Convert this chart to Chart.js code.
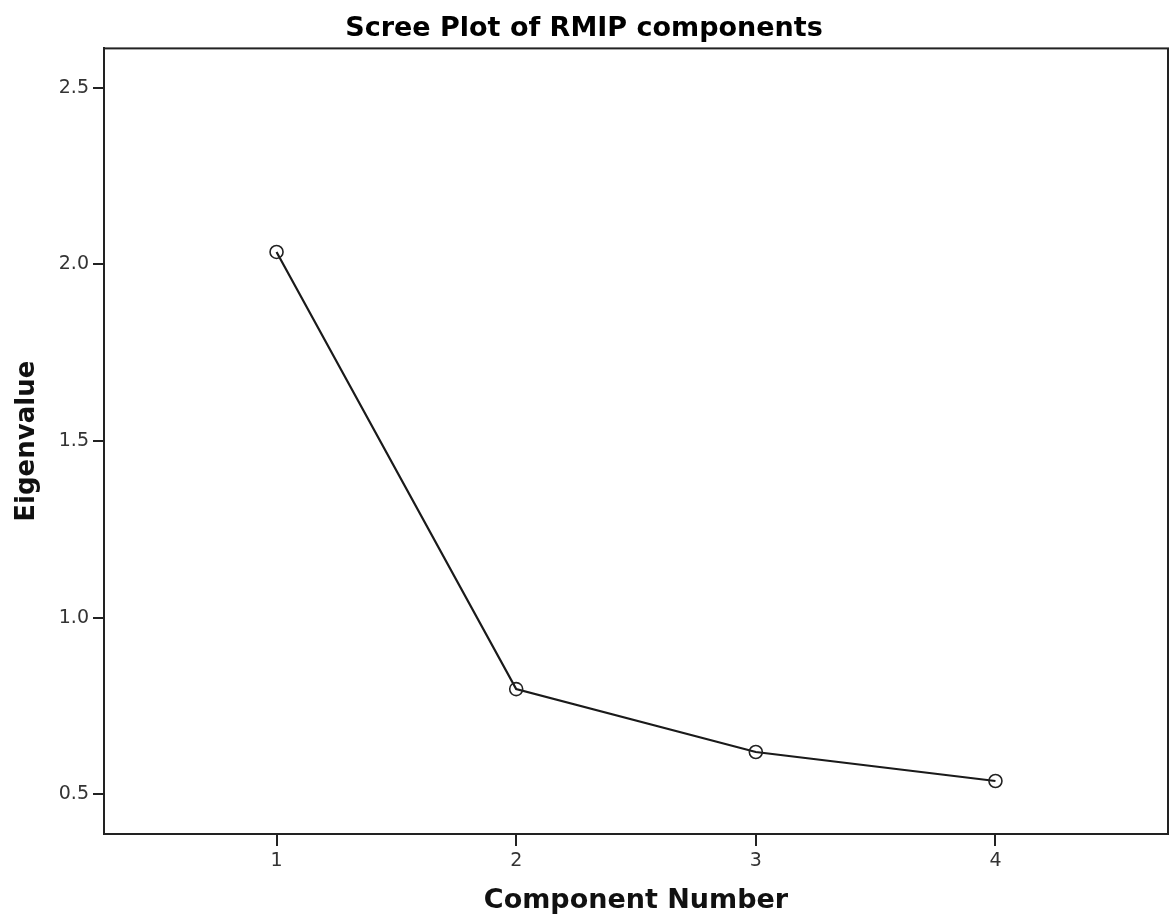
<!DOCTYPE html>
<html>
<head>
<meta charset="utf-8">
<script src="https://cdn.jsdelivr.net/npm/chart.js@4/dist/chart.umd.min.js"></script>
<style>
  html, body { margin: 0; padding: 0; background: #fff; }
  #wrap { width: 1170px; height: 923px; }
</style>
</head>
<body>
<div id="wrap"><canvas id="screeChart" width="1170" height="923"></canvas></div>
<script>
// scree plot data
const components = [1, 2, 3, 4];
const eigenvalues = [2.035, 0.798, 0.620, 0.538];
const xTicks = [1, 2, 3, 4];
const yTicks = [0.5, 1.0, 1.5, 2.0, 2.5];

// box around the plot area
const frame = {
  id: 'frame',
  afterDraw(chart) {
    const { ctx, chartArea: a } = chart;
    ctx.save();
    ctx.strokeStyle = '#222';
    ctx.lineWidth = 2;
    ctx.strokeRect(a.left, a.top, a.right - a.left, a.bottom - a.top);
    ctx.restore();
  }
};

const ctx = document.getElementById('screeChart');
new Chart(ctx, {
  type: 'scatter',
  data: {
    datasets: [{
      data: components.map((c, i) => ({ x: c, y: eigenvalues[i] })),
      showLine: true,
      borderColor: '#1a1a1a',
      borderWidth: 2.2,
      pointRadius: 6.5,
      pointBackgroundColor: 'rgba(0,0,0,0)',
      pointBorderColor: '#222',
      pointBorderWidth: 1.6
    }]
  },
  options: {
    responsive: false,
    animation: false,
    layout: { autoPadding: false, padding: { left: 0, right: 2, top: 0, bottom: 0 } },
    plugins: {
      legend: { display: false },
      tooltip: { enabled: false },
      title: {
        display: true,
        text: 'Scree Plot of RMIP components',
        color: '#000',
        font: { family: 'DejaVu Sans', size: 27, weight: 'bold' },
        padding: { top: 13, bottom: 3 }
      }
    },
    scales: {
      x: {
        type: 'linear',
        min: 0.28,
        max: 4.72,
        afterBuildTicks: s => { s.ticks = xTicks.map(v => ({ value: v })); },
        afterFit: s => { s.height = 89; },
        grid: { drawOnChartArea: false, drawTicks: true, tickLength: 12, color: '#222', lineWidth: 2 },
        border: { display: true, color: '#222', width: 2 },
        ticks: { color: '#333', font: { family: 'DejaVu Sans', size: 19 }, padding: 4 },
        title: {
          display: true,
          text: 'Component Number',
          color: '#111',
          font: { family: 'DejaVu Sans', size: 27, weight: 'bold' },
          padding: { top: 4, bottom: 6 }
        }
      },
      y: {
        min: 0.388,
        max: 2.611,
        afterBuildTicks: s => { s.ticks = yTicks.map(v => ({ value: v })); },
        afterFit: s => { s.width = 104; },
        grid: { drawOnChartArea: false, drawTicks: true, tickLength: 11, color: '#222', lineWidth: 2 },
        border: { display: true, color: '#222', width: 2 },
        ticks: {
          color: '#333',
          font: { family: 'DejaVu Sans', size: 19 },
          padding: 4,
          callback: v => v.toFixed(1)
        },
        title: {
          display: true,
          text: 'Eigenvalue',
          color: '#111',
          font: { family: 'DejaVu Sans', size: 26, weight: 'bold' },
          padding: { top: 12, bottom: 4 }
        }
      }
    }
  },
  plugins: [frame]
});
</script>
</body>
</html>
